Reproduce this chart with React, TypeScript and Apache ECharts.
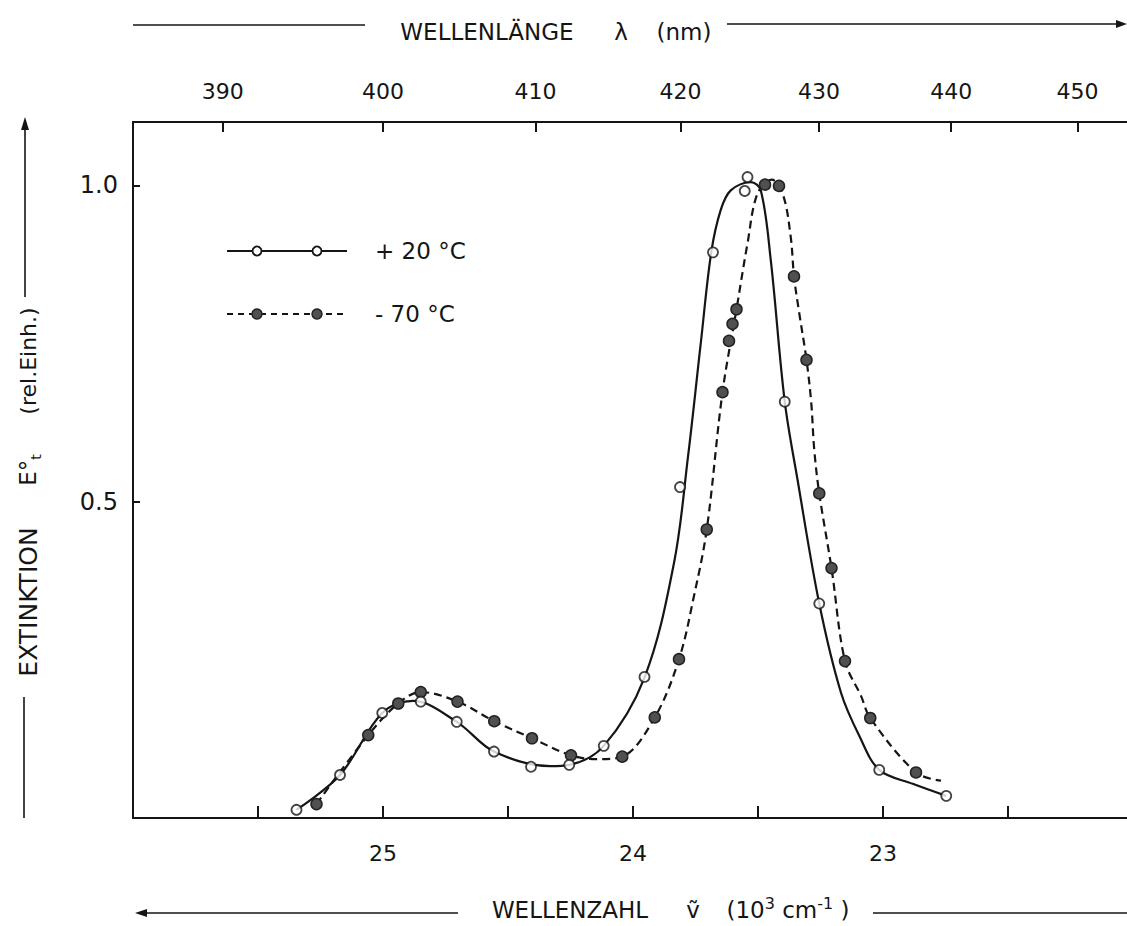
import React, { useEffect, useRef } from "react";
import * as echarts from "echarts";

// Smooth fitted curves (wavenumber 10^3 cm^-1, extinction rel. units)
const curve20 = [
  [25.346, 0.013], [25.172, 0.068], [25.003, 0.166], [24.88, 0.185], [24.705, 0.152],
  [24.556, 0.105], [24.331, 0.082], [24.255, 0.084], [24.117, 0.114], [23.954, 0.222],
  [23.836, 0.403], [23.78, 0.571], [23.729, 0.75], [23.687, 0.894], [23.649, 0.961],
  [23.609, 0.992], [23.529, 1.005], [23.489, 0.992], [23.449, 0.882], [23.393, 0.658],
  [23.342, 0.535], [23.255, 0.339], [23.168, 0.198], [23.095, 0.13], [23.015, 0.076],
  [22.881, 0.054], [22.747, 0.035],
];
const curve70 = [
  [25.266, 0.022], [25.059, 0.131], [24.939, 0.181], [24.849, 0.199], [24.702, 0.184],
  [24.555, 0.153], [24.404, 0.126], [24.248, 0.099], [24.143, 0.093], [24.043, 0.097],
  [23.913, 0.159], [23.816, 0.251], [23.756, 0.351], [23.705, 0.456], [23.642, 0.673],
  [23.586, 0.804], [23.542, 0.908], [23.502, 0.987], [23.445, 1.009], [23.4, 0.985],
  [23.369, 0.918], [23.356, 0.856], [23.337, 0.803], [23.306, 0.724], [23.287, 0.656],
  [23.275, 0.582], [23.255, 0.513], [23.206, 0.395], [23.152, 0.248], [23.088, 0.193],
  [23.051, 0.158], [22.868, 0.072], [22.768, 0.059],
];
// Measured points
const points20 = [
  [25.346, 0.013], [25.172, 0.068], [25.003, 0.166], [24.849, 0.184], [24.705, 0.152],
  [24.556, 0.105], [24.408, 0.081], [24.255, 0.084], [24.117, 0.114], [23.954, 0.223],
  [23.812, 0.523], [23.68, 0.894], [23.553, 0.991], [23.542, 1.013], [23.393, 0.658],
  [23.255, 0.339], [23.015, 0.076], [22.747, 0.035],
];
const points70 = [
  [25.266, 0.022], [25.059, 0.131], [24.939, 0.181], [24.849, 0.199], [24.702, 0.184],
  [24.555, 0.153], [24.404, 0.126], [24.248, 0.099], [24.043, 0.097], [23.913, 0.159],
  [23.816, 0.251], [23.705, 0.456], [23.642, 0.673], [23.616, 0.754], [23.602, 0.781],
  [23.586, 0.804], [23.472, 1.001], [23.416, 0.999], [23.356, 0.856], [23.306, 0.724],
  [23.255, 0.513], [23.206, 0.395], [23.152, 0.248], [23.051, 0.158], [22.868, 0.072],
];
const wavenumberTicks = [25.5, 25, 24.5, 24, 23.5, 23, 22.5];
const wavenumberLabels = [25, 24, 23];
const wavelengthTicks = [390, 400, 410, 420, 430, 440, 450];
const extinctionTicks = [0.5, 1.0];

const FONT = "DejaVu Sans";
const INK = "#151515";

export default function App() {
  const ref = useRef<HTMLDivElement>(null);
  useEffect(() => {
    if (!ref.current) return;
    const chart = echarts.init(ref.current, undefined, { renderer: "svg" });
    const wlVals = wavelengthTicks.map((l) => 10000 / l);
    const axisCommon = {
      type: "value" as const,
      min: 22,
      max: 26,
      inverse: true,
      splitLine: { show: false },
      axisLine: { show: true, lineStyle: { color: INK, width: 2 } },
    };
    const txt = (x: number, y: number, text: string, size: number, extra: any = {}) => ({
      type: "text",
      x,
      y,
      z: 10,
      ...extra,
      style: {
        text,
        fontFamily: FONT,
        fontSize: size,
        fill: INK,
        align: "center",
        verticalAlign: "middle",
        ...(extra.style || {}),
      },
    });
    const ln = (x1: number, y1: number, x2: number, y2: number, w = 1.6, dash?: number[]) => ({
      type: "line",
      z: 10,
      shape: { x1, y1, x2, y2 },
      style: { stroke: INK, lineWidth: w, lineDash: dash },
    });
    const poly = (pts: number[][]) => ({
      type: "polygon",
      z: 10,
      shape: { points: pts },
      style: { fill: INK },
    });
    const circ = (cx: number, cy: number, filled: boolean) => ({
      type: "circle",
      z: 11,
      shape: { cx, cy, r: filled ? 5 : 4.5 },
      style: filled
        ? { fill: "#505050", stroke: "#222", lineWidth: 1.5 }
        : { fill: "#fff", stroke: INK, lineWidth: 1.8 },
    });

    chart.setOption({
      animation: false,
      backgroundColor: "#fff",
      grid: { left: 133, right: -6, top: 122, bottom: 108, outerBoundsMode: "none" },
      xAxis: [
        {
          ...axisCommon,
          position: "bottom",
          axisTick: { show: true, inside: true, length: 12, customValues: wavenumberTicks, lineStyle: { color: INK, width: 2 } },
          axisLabel: {
            customValues: wavenumberLabels,
            formatter: (v: number) => String(Math.round(v)),
            fontFamily: FONT,
            fontSize: 22,
            color: INK,
            margin: 24,
          },
        },
        {
          ...axisCommon,
          position: "top",
          axisTick: { show: true, inside: true, length: 10, customValues: wlVals, lineStyle: { color: INK, width: 2 } },
          axisLabel: {
            customValues: wlVals,
            formatter: (v: number) => String(Math.round(10000 / v)),
            fontFamily: FONT,
            fontSize: 22,
            color: INK,
            margin: 20,
          },
        },
      ],
      yAxis: {
        type: "value",
        min: 0,
        max: 1.1,
        splitLine: { show: false },
        axisLine: { show: true, lineStyle: { color: INK, width: 2 } },
        axisTick: { show: true, inside: true, length: 7, customValues: extinctionTicks, lineStyle: { color: INK, width: 2 } },
        axisLabel: {
          customValues: extinctionTicks,
          formatter: (v: number) => v.toFixed(1),
          fontFamily: FONT,
          fontSize: 24,
          color: INK,
          margin: 15,
        },
      },
      series: [
        {
          name: "+20 °C",
          type: "line",
          data: curve20,
          smooth: 0.35,
          symbol: "none",
          lineStyle: { color: INK, width: 2.2 },
          z: 2,
        },
        {
          name: "-70 °C",
          type: "line",
          data: curve70,
          smooth: 0.35,
          symbol: "none",
          lineStyle: { color: INK, width: 2.2, type: [8, 5] },
          z: 2,
        },
        {
          name: "+20 °C Messpunkte",
          type: "scatter",
          data: points20,
          symbol: "circle",
          symbolSize: 10,
          itemStyle: { color: "#fff", borderColor: INK, borderWidth: 1.8 },
          z: 4,
        },
        {
          name: "-70 °C Messpunkte",
          type: "scatter",
          data: points70,
          symbol: "circle",
          symbolSize: 11,
          itemStyle: { color: "#505050", borderColor: "#222", borderWidth: 1.5, opacity: 1 },
          z: 3,
        },
      ],
      graphic: [
        // top title
        ln(133, 25, 365, 25),
        txt(487, 32, "WELLENLÄNGE", 23),
        txt(621, 32, "λ", 23),
        txt(684, 32, "(nm)", 23),
        ln(727, 24, 1118, 24),
        poly([[1127, 24], [1116, 20], [1116, 28]]),
        // bottom title
        poly([[135, 913], [147, 909], [147, 917]]),
        ln(145, 913, 458, 913),
        txt(570, 910, "WELLENZAHL", 23),
        txt(693, 910, "ṽ", 23),
        {
          type: "text",
          x: 788,
          y: 910,
          z: 10,
          style: {
            text: "(10{sup|3} cm{sup|-1} )",
            fontFamily: FONT,
            fontSize: 23,
            fill: INK,
            align: "center",
            verticalAlign: "middle",
            lineHeight: 30,
            rich: {
              sup: { fontFamily: FONT, fontSize: 16, fill: INK, verticalAlign: "top", lineHeight: 30 },
            },
          },
        },
        ln(873, 913, 1127, 913),
        // left title
        poly([[25, 117], [21, 130], [29, 130]]),
        ln(25, 126, 25, 297),
        txt(28, 361, "(rel.Einh.)", 22, { rotation: Math.PI / 2 }),
        {
          type: "text",
          x: 28,
          y: 470,
          z: 10,
          rotation: Math.PI / 2,
          style: {
            text: "E°{sub|t}",
            fontFamily: FONT,
            fontSize: 23,
            fill: INK,
            align: "center",
            verticalAlign: "middle",
            lineHeight: 30,
            rich: {
              sub: { fontFamily: FONT, fontSize: 14, fill: INK, verticalAlign: "bottom", lineHeight: 30 },
            },
          },
        },
        txt(28, 602, "EXTINKTION", 25, { rotation: Math.PI / 2 }),
        ln(24, 697, 24, 818),
        // legend
        ln(227, 251, 347, 251, 1.8),
        circ(257, 251, false),
        circ(317, 251, false),
        txt(375, 251, "+ 20 °C", 23, { style: { align: "left" } }),
        ln(227, 314, 347, 314, 1.8, [6, 5]),
        circ(257, 314, true),
        circ(317, 314, true),
        txt(375, 314, "- 70 °C", 23, { style: { align: "left" } }),
      ],
    });
    return () => chart.dispose();
  }, []);
  return (
    <div
      ref={ref}
      style={{ position: "absolute", left: 0, top: 0, width: 1127, height: 926, background: "#fff" }}
    />
  );
}
